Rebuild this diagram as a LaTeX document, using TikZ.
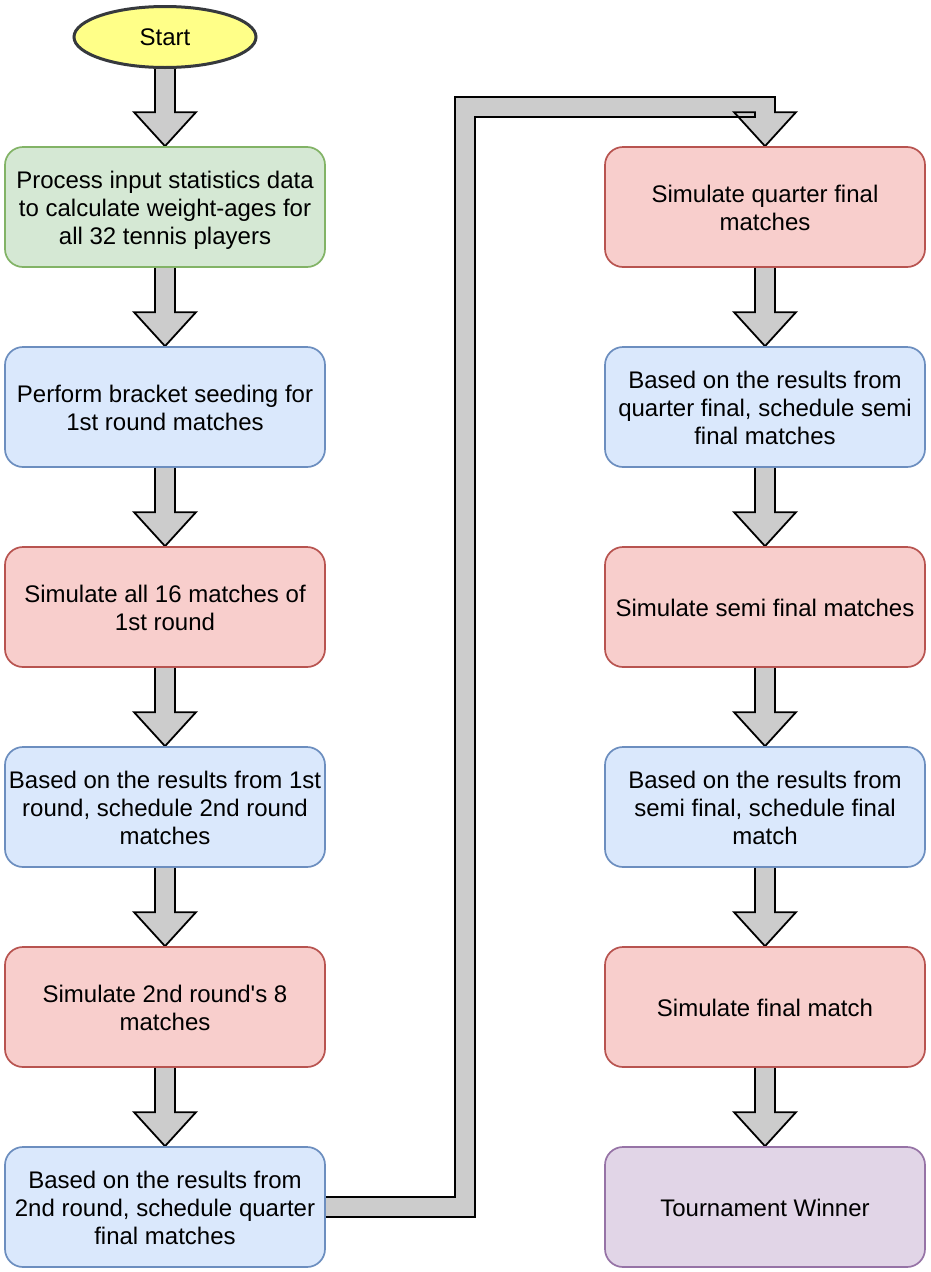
\documentclass[tikz,border=0pt]{standalone}
\usepackage{fontspec}
\setmainfont{Liberation Sans}[Ligatures=TeXOff]
\usetikzlibrary{shapes.geometric,calc,backgrounds}
\definecolor{gfill}{HTML}{D5E8D4}\definecolor{gline}{HTML}{82B366}
\definecolor{bfill}{HTML}{DAE8FC}\definecolor{bline}{HTML}{6C8EBF}
\definecolor{rfill}{HTML}{F8CECC}\definecolor{rline}{HTML}{B85450}
\definecolor{pfill}{HTML}{E1D5E7}\definecolor{pline}{HTML}{9673A6}
\definecolor{yfill}{HTML}{FFFF88}\definecolor{yline}{HTML}{36393D}
\definecolor{afill}{HTML}{CCCCCC}
\newcommand\ml[1]{\raisebox{-4pt}[\height][\depth]{\begin{tabular}{@{}c@{}}#1\end{tabular}}}
\tikzset{
  box/.style={rectangle, rounded corners=18pt, minimum width=320pt, minimum height=120pt,
    inner sep=0pt, line width=1.7pt,
    font=\fontsize{24}{28}\selectfont},
  gbox/.style={box, fill=gfill, draw=gline},
  bbox/.style={box, fill=bfill, draw=bline},
  rbox/.style={box, fill=rfill, draw=rline},
  pbox/.style={box, fill=pfill, draw=pline},
  startnode/.style={ellipse, minimum width=182pt, minimum height=61pt, inner sep=0pt,
    fill=yfill, draw=yline, line width=3pt, font=\fontsize{24}{28}\selectfont},
  barrow/.style={fill=afill, draw=black, line width=1.8pt, line join=miter}
}
\newcommand\blockarr[2]{%
  \draw[barrow] ($(#1)+(-10,0)$) -- ($(#2)+(-10,-34)$) -- ($(#2)+(-31,-34)$) -- (#2)
    -- ($(#2)+(31,-34)$) -- ($(#2)+(10,-34)$) -- ($(#1)+(10,0)$);}
\begin{document}
\begin{tikzpicture}[x=1pt,y=-1pt]
\useasboundingbox (0,0) rectangle (930,1272);
\node[startnode] (start) at (165,37) {Start};
\node[gbox] (l1) at (165,207) {\ml{Process input statistics data\\to calculate weight-ages for\\all 32 tennis players}};
\node[bbox] (l2) at (165,407) {\ml{Perform bracket seeding for\\1st round matches}};
\node[rbox] (l3) at (165,607) {\ml{Simulate all 16 matches of\\1st round}};
\node[bbox] (l4) at (165,807) {\ml{Based on the results from 1st\\round, schedule 2nd round\\matches}};
\node[rbox] (l5) at (165,1007) {\ml{Simulate 2nd round's 8\\matches}};
\node[bbox] (l6) at (165,1207) {\ml{Based on the results from\\2nd round, schedule quarter\\final matches}};
\node[rbox] (r1) at (765,207) {\ml{Simulate quarter final\\matches}};
\node[bbox] (r2) at (765,407) {\ml{Based on the results from\\quarter final, schedule semi\\final matches}};
\node[rbox] (r3) at (765,607) {\ml{Simulate semi final matches}};
\node[bbox] (r4) at (765,807) {\ml{Based on the results from\\semi final, schedule final\\match}};
\node[rbox] (r5) at (765,1007) {\ml{Simulate final match}};
\node[pbox] (r6) at (765,1207) {\ml{Tournament Winner}};
\coordinate (c2) at (465,107);
\begin{scope}[on background layer]
\fill[white] (0,0) rectangle (930,1272);
\blockarr{start.south}{l1.north}
\blockarr{l1.south}{l2.north}
\blockarr{l2.south}{l3.north}
\blockarr{l3.south}{l4.north}
\blockarr{l4.south}{l5.north}
\blockarr{l5.south}{l6.north}
\blockarr{r1.south}{r2.north}
\blockarr{r2.south}{r3.north}
\blockarr{r3.south}{r4.north}
\blockarr{r4.south}{r5.north}
\blockarr{r5.south}{r6.north}
\draw[barrow] ($(l6.east)+(0,-10)$) -- ($(c2 |- l6.east)+(-10,-10)$) -- ($(c2)+(-10,-10)$)
  -- ($(c2 -| r1.north)+(10,-10)$) -- ($(r1.north)+(10,-34)$) -- ($(r1.north)+(31,-34)$)
  -- (r1.north) -- ($(r1.north)+(-31,-34)$) -- ($(r1.north)+(-10,-34)$)
  -- ($(c2 -| r1.north)+(-10,10)$) -- ($(c2)+(10,10)$) -- ($(c2 |- l6.east)+(10,10)$)
  -- ($(l6.east)+(0,10)$);
\end{scope}
\end{tikzpicture}
\end{document}
